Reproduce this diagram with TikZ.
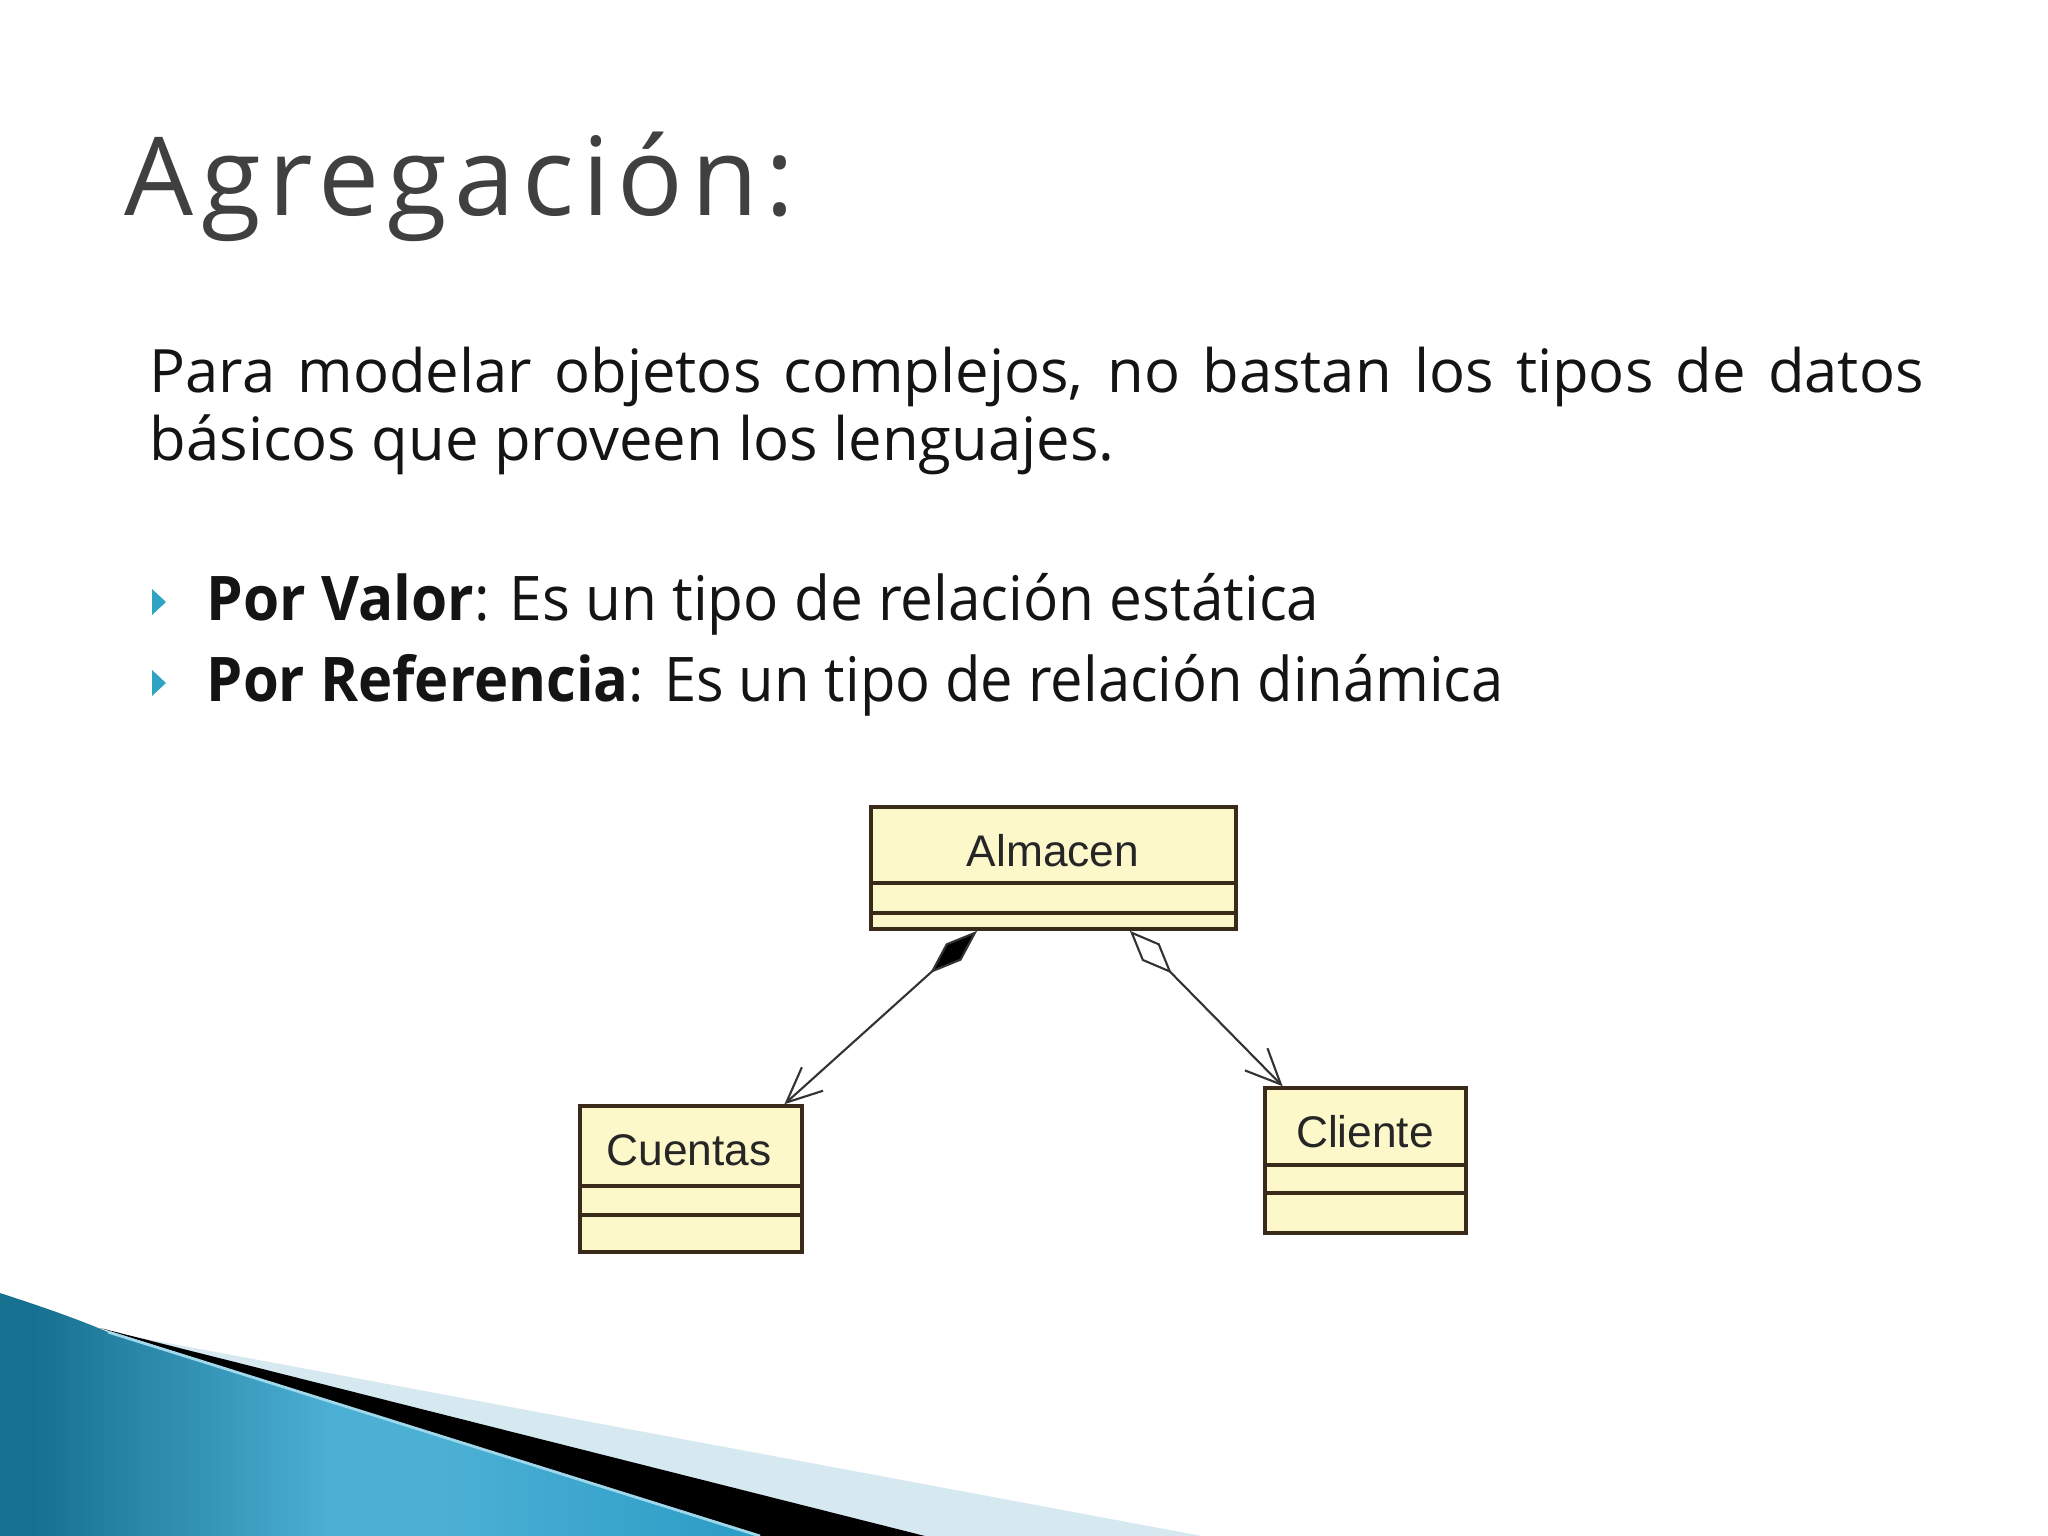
\documentclass[tikz,border=0pt]{standalone}
\usepackage{fontspec}
\setmainfont{Open Sans}
\newfontfamily\umlfont{Liberation Sans}
\newfontfamily\titlefont[LetterSpace=7]{Open Sans}
\usetikzlibrary{arrows.meta,calc}
\definecolor{titlegray}{HTML}{404040}
\definecolor{bulletcyan}{HTML}{2EA3C2}
\definecolor{clsfill}{HTML}{FDF8CA}
\definecolor{clsline}{HTML}{3A2A1A}
\definecolor{bluedark}{HTML}{16708F}
\definecolor{bluelight}{HTML}{4CB0D4}
\definecolor{bluemid}{HTML}{2A9CC6}
\definecolor{bandlight}{HTML}{D6E8F0}
\definecolor{edgelight}{HTML}{9ED8EA}
\pgfdeclarehorizontalshading{bluedeco}{100bp}{color(0bp)=(bluedark); color(27bp)=(bluedark); color(47bp)=(bluelight); color(54bp)=(bluelight); color(75bp)=(bluemid); color(100bp)=(bluemid)}
\begin{document}
\begin{tikzpicture}[x=0.01cm,y=-0.01cm,
  cls/.style={draw=clsline, line width=1pt, fill=clsfill, inner sep=0pt, rectangle},
  sepline/.style={draw=clsline, line width=1pt},
  clslabel/.style={font=\umlfont\fontsize{12.6}{14}\selectfont, anchor=base, inner sep=0pt, text=black!85},
  rel/.style={draw=black!80, line width=0.6pt},
  bodytext/.style={font=\fontsize{17}{20}\selectfont, anchor=base west, inner sep=0pt, text=black!92},
  bullettext/.style={font=\fontsize{17.5}{21}\selectfont, anchor=base west, inner sep=0pt, text=black!92},
  bulletmark/.style={fill=bulletcyan, draw=none}
]
\useasboundingbox (0,0) rectangle (2048,1536);
\fill[white] (0,0) rectangle (2048,1536);

% bottom-left decoration
\fill[bandlight] (130,1336) -- (1202,1536) -- (900,1536) -- cycle;
\fill[black] (100,1328) -- (925,1536) -- (760,1536) -- cycle;
\shade[shading=bluedeco]
  (0,1293) .. controls (40,1306) and (75,1318) .. (108,1332) -- (760,1536) -- (0,1536) -- cycle;
\draw[edgelight, line width=0.8pt] (108,1332) -- (760,1536);

% title
\node[font=\titlefont\fontsize{31}{36}\selectfont, text=titlegray, anchor=base west, inner sep=0pt] (title) at (124,215) {Agregación:};

% body
\node[bodytext] (line1) at (149,392) {\makebox[17.73cm][s]{Para modelar objetos complejos, no bastan los tipos de datos}};
\node[bodytext] (line2) at (149,460) {básicos que proveen los lenguajes.};

\fill[bulletmark] (152,589) -- (166,602) -- (152,615) -- cycle;
\fill[bulletmark] (152,670) -- (166,683) -- (152,696) -- cycle;
\node[bullettext] (b1) at (206,620) {\scalebox{0.95}[1]{\textbf{Por Valor}: Es un tipo de relación estática}};
\node[bullettext] (b2) at (206,701) {\scalebox{0.94}[1]{\textbf{Por Referencia}: Es un tipo de relación dinámica}};

% UML classes
\node[cls, minimum width=3.65cm, minimum height=1.22cm] (alm) at (1053.5,868) {};
\draw[sepline] (871,883) -- (1236,883);
\draw[sepline] (871,913) -- (1236,913);
\node[clslabel] (almlabel) at (1053,866) {Almacen};

\node[cls, minimum width=2.22cm, minimum height=1.46cm] (cue) at (691,1179) {};
\draw[sepline] (580,1186) -- (802,1186);
\draw[sepline] (580,1215) -- (802,1215);
\node[clslabel] (cuelabel) at (689,1165) {Cuentas};

\node[cls, minimum width=2.01cm, minimum height=1.45cm] (cli) at (1365.5,1160.5) {};
\draw[sepline] (1265,1165) -- (1466,1165);
\draw[sepline] (1265,1193) -- (1466,1193);
\node[clslabel] (clilabel) at (1365,1147) {Cliente};

% relations
\draw[rel, {Diamond[length=18pt,width=6.5pt,fill=black]}-{Straight Barb[length=10pt,width=9pt]}]
  ($(alm.south west)!0.293!(alm.south east)$) -- ($(cue.north west)!0.914!(cue.north east)$);
\draw[rel, {Diamond[length=17pt,width=7pt,fill=white]}-{Straight Barb[length=10pt,width=9pt]}]
  ($(alm.south west)!0.707!(alm.south east)$) -- ($(cli.north west)!0.095!(cli.north east)$);
\end{tikzpicture}
\end{document}
